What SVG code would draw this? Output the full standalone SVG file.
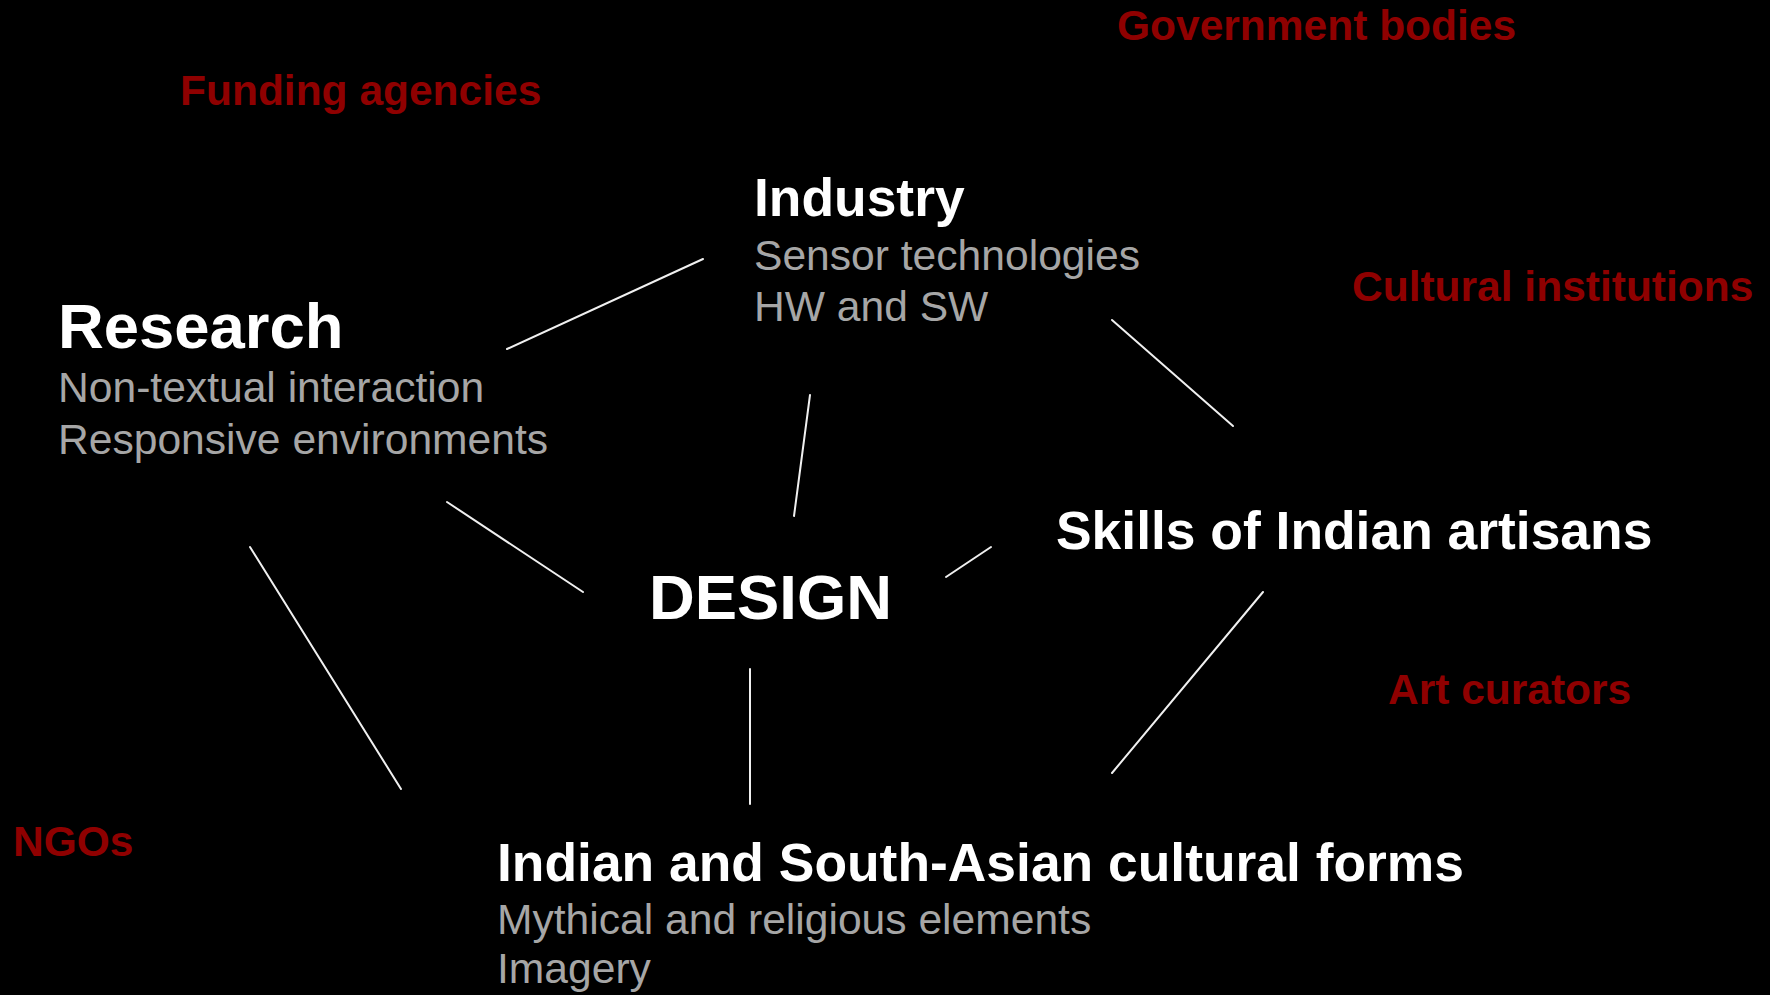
<svg xmlns="http://www.w3.org/2000/svg" width="1770" height="995" viewBox="0 0 1770 995">
  <style>
    text { font-family: "Liberation Sans", Arial, Helvetica, sans-serif; }
    .title { fill: #ffffff; font-weight: bold; font-size: 53.4px; }
    .big { fill: #ffffff; font-weight: bold; font-size: 63.4px; }
    .sub { fill: #a6a6a6; font-size: 42.6px; }
    .actor { fill: #8f0000; font-weight: bold; font-size: 42.5px; }
    .link { stroke: #f0f0f0; stroke-width: 2; stroke-linecap: round; fill: none; }
  </style>
  <rect x="0" y="0" width="1770" height="995" fill="#000000"/>

  <!-- connectors between the core nodes -->
  <g id="connectors">
    <line class="link" x1="507" y1="349" x2="703" y2="259"/>
    <line class="link" x1="810" y1="395" x2="794" y2="516"/>
    <line class="link" x1="447" y1="502" x2="583" y2="592"/>
    <line class="link" x1="1112" y1="320" x2="1233" y2="426"/>
    <line class="link" x1="946" y1="577" x2="991" y2="547"/>
    <line class="link" x1="250" y1="547" x2="401" y2="789"/>
    <line class="link" x1="750" y1="669" x2="750" y2="804"/>
    <line class="link" x1="1263" y1="592" x2="1112" y2="773"/>
  </g>

  <!-- core nodes -->
  <g id="research">
    <text class="big" x="58" y="348">Research</text>
    <text class="sub" x="58" y="402">Non-textual interaction</text>
    <text class="sub" x="58" y="454">Responsive environments</text>
  </g>
  <g id="industry">
    <text class="title" x="754" y="216">Industry</text>
    <text class="sub" x="754" y="270">Sensor technologies</text>
    <text class="sub" x="754" y="321">HW and SW</text>
  </g>
  <g id="design">
    <text class="big" x="649" y="619">DESIGN</text>
  </g>
  <g id="skills">
    <text class="title" x="1056" y="549">Skills of Indian artisans</text>
  </g>
  <g id="cultural-forms">
    <text class="title" x="497" y="881">Indian and South-Asian cultural forms</text>
    <text class="sub" x="497" y="934">Mythical and religious elements</text>
    <text class="sub" x="497" y="983">Imagery</text>
  </g>

  <!-- surrounding stakeholders -->
  <g id="government-bodies">
    <text class="actor" x="1117" y="40">Government bodies</text>
  </g>
  <g id="funding-agencies">
    <text class="actor" x="180" y="105">Funding agencies</text>
  </g>
  <g id="cultural-institutions">
    <text class="actor" x="1352" y="301">Cultural institutions</text>
  </g>
  <g id="art-curators">
    <text class="actor" x="1388" y="704">Art curators</text>
  </g>
  <g id="ngos">
    <text class="actor" x="13" y="856">NGOs</text>
  </g>
</svg>
